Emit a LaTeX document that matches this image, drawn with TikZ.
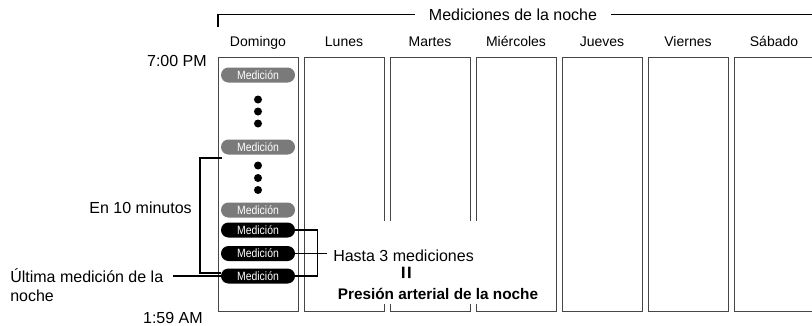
\documentclass[tikz,border=0pt]{standalone}
\usepackage{fontspec}
\setmainfont{Liberation Sans}
\newfontfamily\narrowfont[FakeStretch=0.87]{Liberation Sans}
\usetikzlibrary{positioning}
\definecolor{PillGray}{RGB}{122,122,122}
\definecolor{BoxLine}{RGB}{70,70,70}

\begin{document}
\begin{tikzpicture}[
    x=0.75pt, y=-0.75pt,
    daybox/.style={
        rectangle,
        draw=BoxLine,
        line width=0.6pt,
        fill=white,
        minimum width=60pt,
        minimum height=190.5pt,
        inner sep=0pt
    },
    dayname/.style={
        font=\fontsize{10.5}{12}\selectfont,
        inner sep=0pt
    },
    pill/.style={
        rectangle,
        rounded corners=5.6pt,
        minimum width=55.5pt,
        minimum height=11.25pt,
        inner sep=0pt,
        text=white,
        font=\narrowfont\fontsize{9}{10}\selectfont
    },
    greypill/.style={pill, fill=PillGray},
    darkpill/.style={pill, fill=black},
    notetext/.style={
        font=\fontsize{12}{14.5}\selectfont,
        inner sep=0pt
    },
    bracketline/.style={
        line width=1.1pt,
        draw=black
    },
    dotmark/.style={
        circle,
        fill=black,
        minimum size=6pt,
        inner sep=0pt
    }
]
\useasboundingbox (0,0) rectangle (812,325);

% week columns
\foreach \day [count=\i from 0] in {Domingo,Lunes,Martes,Miércoles,Jueves,Viernes,Sábado}{
    \node[daybox] (col\i) at (258+86*\i,184) {};
    \node[dayname,above=7.9pt of col\i.north,anchor=base] (day\i) {\day};
}

\fill[white] (310,221) rectangle (551,304);

% header bracket
\node[notetext,inner xsep=10.5pt] (title) at (513,14.5)
{Mediciones de la noche};
\coordinate (titlefoot) at (218,27);
\coordinate (titleend) at (812,14.5);

\draw[bracketline]
(titlefoot) |- (title.west);

\draw[bracketline]
(title.east) -- (titleend);

% times
\node[notetext,anchor=east] (start) at (207,61) {7:00 PM};
\node[notetext,anchor=east] (finish) at (203,318) {1:59 AM};

% measurements
\node[greypill] (m1) at (258,75) {Medición};
\node[greypill] (m2) at (258,147) {Medición};
\node[greypill] (m3) at (258,210) {Medición};
\node[darkpill] (m4) at (258,230) {Medición};
\node[darkpill] (m5) at (258,253.5) {Medición};
\node[darkpill] (m6) at (258,276) {Medición};

\foreach \y [count=\k] in {99.5,111.5,123.5,165.5,178,190}
    \node[dotmark] (dot\k) at (258,\y) {};

% last 10 minutes
\node[notetext,anchor=east] (tenmin) at (192,208) {En 10 minutos};
\coordinate (tenstart) at (222,158);

\draw[bracketline]
(tenstart) -- ++(-22,0) |- ([yshift=2.25pt]m6.west);

\node[notetext,anchor=north west,align=left] (ultima) at (10,268)
{Última medición de la\\noche};
\coordinate (ultimaend) at (173,276);

\draw[bracketline]
(ultimaend) -- (m6.west);

% up to three
\node[notetext,anchor=west,inner xsep=4.5pt] (hasta) at (327,256)
{Hasta 3 mediciones};

\draw[bracketline]
(m4.east) -- ++(22,0) |- (m6.east);

\draw[bracketline]
(m5.east) -- (m5.east -| hasta.west);

\node[notetext,rotate=90,font=\fontsize{17}{18}\selectfont\bfseries] (equal) at (408,273) {=};

\node[notetext,font=\fontsize{11.5}{14}\selectfont\bfseries] (presion) at (438,294)
{Presión arterial de la noche};

\end{tikzpicture}
\end{document}
